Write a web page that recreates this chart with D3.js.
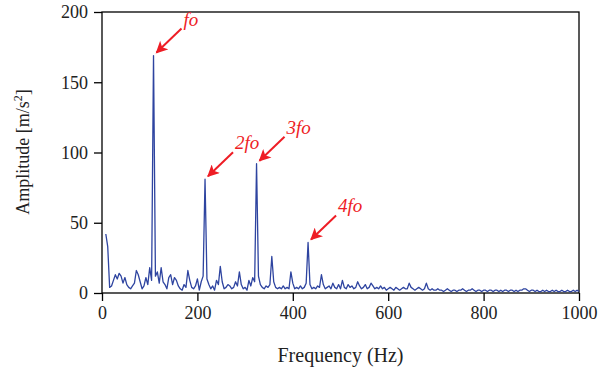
<!DOCTYPE html>
<html>
<head>
<meta charset="utf-8">
<script src="https://cdn.jsdelivr.net/npm/d3@7"></script>
<style>
  body { margin: 0; background: #fff; }
  text { font-family: "Liberation Serif", "DejaVu Serif", serif; }
</style>
</head>
<body>
<div id="vis"></div>
<script>
// spectrum bins: 8 Hz .. 1000 Hz, 4 Hz apart
var freqBins = d3.range(8, 1001, 4);

// amplitude [m/s^2] for each bin
var amplitude = [
  42, 33, 4, 5, 9, 13, 10, 14, 12, 7,
  11, 6, 4, 3, 5, 7, 16, 13, 8, 3,
  5, 11, 6, 18, 9, 169, 12, 15, 7, 18,
  8, 6, 3, 11, 13, 6, 11, 9, 5, 3,
  2, 6, 4, 16, 9, 4, 3, 5, 10, 2,
  8, 12, 81, 10, 6, 3, 5, 2, 9, 6,
  19, 8, 3, 4, 6, 5, 3, 4, 8, 5,
  15, 6, 3, 4, 2, 9, 5, 11, 8, 92,
  12, 6, 4, 3, 5, 4, 6, 26, 8, 4,
  3, 4, 3, 5, 3, 4, 3, 15, 7, 3,
  4, 3, 5, 3, 4, 7, 36, 6, 3, 4,
  3, 5, 4, 13, 6, 3, 4, 5, 3, 7,
  4, 3, 6, 3, 9, 4, 3, 6, 4, 5,
  3, 4, 8, 5, 3, 4, 6, 3, 4, 7,
  5, 3, 4, 3, 5, 3, 4, 2, 3, 4,
  3, 2, 4, 3, 2, 3, 4, 3, 3, 7,
  4, 3, 2, 3, 4, 3, 2, 3, 7, 3,
  2, 3, 2, 2, 3, 2, 2, 1, 2, 3,
  2, 1, 2, 2, 1, 2, 2, 3, 2, 1,
  2, 2, 3, 2, 1, 2, 2, 1, 2, 2,
  1, 2, 2, 1, 2, 2, 1, 2, 1, 2,
  2, 1, 2, 2, 1, 2, 1, 2, 2, 3,
  3, 2, 1, 2, 2, 1, 2, 1, 1, 2,
  1, 2, 1, 1, 2, 1, 2, 1, 1, 2,
  1, 1, 2, 1, 1, 2, 1, 2, 1
];

var xTicks = [0, 200, 400, 600, 800, 1000];
var yTicks = [0, 50, 100, 150, 200];

// harmonic labels: peak frequency, peak amplitude, label
var harmonicLabels = ['fo', '2fo', '3fo', '4fo'];
var harmonicFreq = [108, 216, 324, 432];
var harmonicAmp = [169, 81, 92, 36];

var width = 600;
var height = 373;
var margin = { top: 12, left: 102, bottom: 80, right: 21 };

var svg = d3.select('#vis').append('svg')
  .attr('width', width)
  .attr('height', height);

var x = d3.scaleLinear().domain([0, 1000]).range([margin.left, width - margin.right]);
var y = d3.scaleLinear().domain([0, 200]).range([height - margin.bottom, margin.top]);

// frame
svg.append('rect')
  .attr('x', x(0))
  .attr('y', y(200))
  .attr('width', x(1000) - x(0))
  .attr('height', y(0) - y(200))
  .attr('fill', 'none')
  .attr('stroke', '#000')
  .attr('stroke-width', 1.3);

// spectrum line
var line = d3.line()
  .x(function (d, i) { return x(freqBins[i]); })
  .y(function (d) { return y(d); });

svg.append('path')
  .datum(amplitude)
  .attr('d', line)
  .attr('fill', 'none')
  .attr('stroke', '#2e44a0')
  .attr('stroke-width', 1.3)
  .attr('stroke-linejoin', 'round');

// axes
var xAxis = svg.append('g')
  .attr('transform', 'translate(0,' + y(0) + ')')
  .call(d3.axisBottom(x).tickValues(xTicks).tickSize(8).tickPadding(5).tickFormat(d3.format('d')));

var yAxis = svg.append('g')
  .attr('transform', 'translate(' + x(0) + ',0)')
  .call(d3.axisLeft(y).tickValues(yTicks).tickSize(8).tickPadding(6));

[xAxis, yAxis].forEach(function (a) {
  a.select('.domain').remove();
  a.selectAll('.tick line').attr('stroke', '#000').attr('stroke-width', 1.3);
  a.selectAll('.tick text')
    .attr('fill', '#222')
    .style('font-size', '18px')
    .style('font-family', '"Liberation Serif", serif');
});

// axis titles
svg.append('text')
  .attr('x', (x(0) + x(1000)) / 2)
  .attr('y', 362)
  .attr('text-anchor', 'middle')
  .attr('fill', '#222')
  .style('font-size', '20px')
  .text('Frequency (Hz)');

var yt = svg.append('text')
  .attr('transform', 'translate(29,152) rotate(-90)')
  .attr('text-anchor', 'middle')
  .attr('fill', '#222')
  .style('font-size', '18px');
yt.append('tspan').text('Amplitude [m/s');
yt.append('tspan').attr('dy', -7).style('font-size', '12px').text('2');
yt.append('tspan').attr('dy', 7).text(']');

// harmonic arrows
var defs = svg.append('defs');
defs.append('marker')
  .attr('id', 'head')
  .attr('viewBox', '0 0 10 10')
  .attr('refX', 9)
  .attr('refY', 5)
  .attr('markerWidth', 6.5)
  .attr('markerHeight', 6)
  .attr('markerUnits', 'strokeWidth')
  .attr('orient', 'auto')
  .append('path')
  .attr('d', 'M0,0 L10,5 L0,10 L2.5,5 Z')
  .attr('fill', '#ee1d25');

var ann = svg.append('g');
harmonicLabels.forEach(function (lab, i) {
  var tipX = x(harmonicFreq[i]) + 3;
  var tipY = y(harmonicAmp[i]) - 3;
  var tailX = tipX + 25;
  var tailY = tipY - 24;
  ann.append('line')
    .attr('x1', tailX)
    .attr('y1', tailY)
    .attr('x2', tipX)
    .attr('y2', tipY)
    .attr('stroke', '#ee1d25')
    .attr('stroke-width', 2)
    .attr('marker-end', 'url(#head)');
  ann.append('text')
    .attr('x', tailX + 2)
    .attr('y', tailY - 3)
    .attr('fill', '#ee1d25')
    .style('font-size', '19px')
    .style('font-style', 'italic')
    .text(lab);
});
</script>
</body>
</html>
